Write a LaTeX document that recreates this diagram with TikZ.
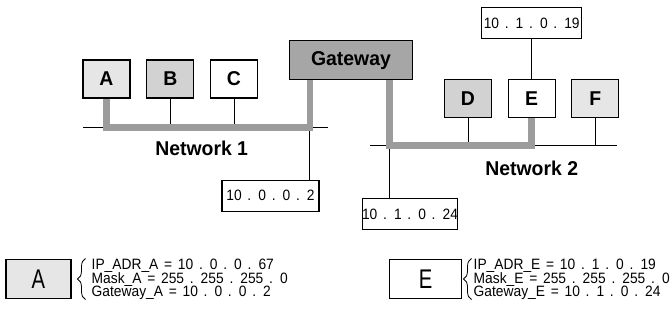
\documentclass[tikz,border=0pt]{standalone}
\usepackage{fontspec}
\setmainfont{Liberation Sans}
\newfontfamily\lblfont[FakeStretch=0.97]{Liberation Sans}
\newfontfamily\addrfont[FakeStretch=0.92,WordSpace=1.5]{Liberation Sans}
\newfontfamily\bigfont[FakeStretch=0.75]{Liberation Sans}
\usetikzlibrary{decorations.pathreplacing}

\definecolor{hostlight}{HTML}{E6E6E6}
\definecolor{hostmid}{HTML}{D2D2D2}
\definecolor{gwfill}{HTML}{A6A6A6}
\definecolor{linkgrey}{HTML}{9C9C9C}

\tikzset{
  hostbox/.style={draw=black, line width=1.1pt, minimum width=47pt, minimum height=38pt,
    inner sep=0pt, font=\lblfont\bfseries\fontsize{20}{24}\selectfont},
  addrbox/.style={draw=black, line width=1.1pt, fill=white, minimum height=31pt,
    inner sep=0pt, font=\addrfont\fontsize{15}{18}\selectfont},
  netlabel/.style={font=\lblfont\bfseries\fontsize{20}{24}\selectfont},
  bus/.style={line width=0.9pt, black},
  uplink/.style={line width=6.5pt, linkgrey, line join=miter},
  legend/.style={draw=black, line width=1.1pt, minimum height=39pt, inner sep=0pt,
    font=\bigfont\fontsize{27}{30}\selectfont},
  cfgline/.style={anchor=base west, inner sep=0pt, font=\addrfont\fontsize{15}{18}\selectfont},
  cfgbrace/.style={decorate, decoration={brace, amplitude=8pt}, line width=0.8pt}
}

\begin{document}
\begin{tikzpicture}[x=1pt, y=-1pt]
\useasboundingbox (0,0) rectangle (670,321);

% hosts and gateway
\node[hostbox, fill=hostlight] (A) at (106.5,79) {A};
\node[hostbox, fill=hostmid]   (B) at (170.3,79) {B};
\node[hostbox, fill=white]     (C) at (234,79)   {C};
\node[hostbox, fill=gwfill, minimum width=123pt, minimum height=39pt] (G) at (351,60.3) {Gateway};
\node[hostbox, fill=hostmid]   (D) at (468,98.2)  {D};
\node[hostbox, fill=white]     (E) at (531.7,98.2) {E};
\node[hostbox, fill=hostlight] (F) at (595.3,98.2) {F};

% address labels
\node[addrbox, minimum width=100pt] (ipE)  at (531.7,23.2)  {10 . 1 . 0 . 19};
\node[addrbox, minimum width=97pt]  (gw1)  at (270.5,195.8) {10 . 0 . 0 . 2};
\node[addrbox, minimum width=93pt]  (gw2)  at (410,214.2)   {10 . 1 . 0 . 24};

% bus end points and taps
\coordinate (n1w) at (83,127.7);
\coordinate (n1e) at (328,127.7);
\coordinate (n2w) at (370,145.7);
\coordinate (n2e) at (617,145.7);
\coordinate (gl)  at (309.8,80);
\coordinate (gr)  at (389.3,80);

% network 1
\draw[bus] (n1w) -- (n1e);
\draw[bus] (B.south) -- (B.south |- n1w);
\draw[bus] (C.south) -- (C.south |- n1w);
\draw[bus] (gl |- n1w) -- (gl |- gw1.north);

% network 2
\draw[bus] (n2w) -- (n2e);
\draw[bus] (D.south) -- (D.south |- n2w);
\draw[bus] (F.south) -- (F.south |- n2w);
\draw[bus] (gr |- n2w) -- (gw2.north -| gr);
\draw[bus] (E.north) -- (ipE.south);

% highlighted route through the gateway
\draw[uplink] (A.south) -- (A.south |- n1w) -- (gl |- n1w) -- (gl);
\draw[uplink] (gr) -- (gr |- n2w) -- (E.south |- n2w) -- (E.south);

\node[netlabel] (net1) at (201.7,148.5) {Network 1};
\node[netlabel] (net2) at (531.7,168.5) {Network 2};

% configuration of host A
\node[legend, fill=hostlight, minimum width=65pt] (cA) at (38.5,278.8) {A};
\coordinate (bA1) at (85.5,299.5);
\coordinate (bA2) at (85.5,258.5);
\draw[cfgbrace] (bA1) -- (bA2);
\node[cfgline] (ipA)   at (91.5,269.3) {IP\_ADR\_A = 10 . 0 . 0 . 67};
\node[cfgline] (maskA) at (91.5,283.1) {Mask\_A = 255 . 255 . 255 . 0};
\node[cfgline] (gwA)   at (91.5,296.9) {Gateway\_A = 10 . 0 . 0 . 2};

% configuration of host E
\node[legend, fill=white, minimum width=72pt] (cE) at (425.5,278.8) {E};
\coordinate (bE1) at (471.5,299.5);
\coordinate (bE2) at (471.5,258.5);
\draw[cfgbrace] (bE1) -- (bE2);
\node[cfgline] (ipEl)  at (473.5,269.3) {IP\_ADR\_E = 10 . 1 . 0 . 19};
\node[cfgline] (maskE) at (473.5,283.1) {Mask\_E = 255 . 255 . 255 . 0};
\node[cfgline] (gwE)   at (473.5,296.9) {Gateway\_E = 10 . 1 . 0 . 24};
\end{tikzpicture}
\end{document}
